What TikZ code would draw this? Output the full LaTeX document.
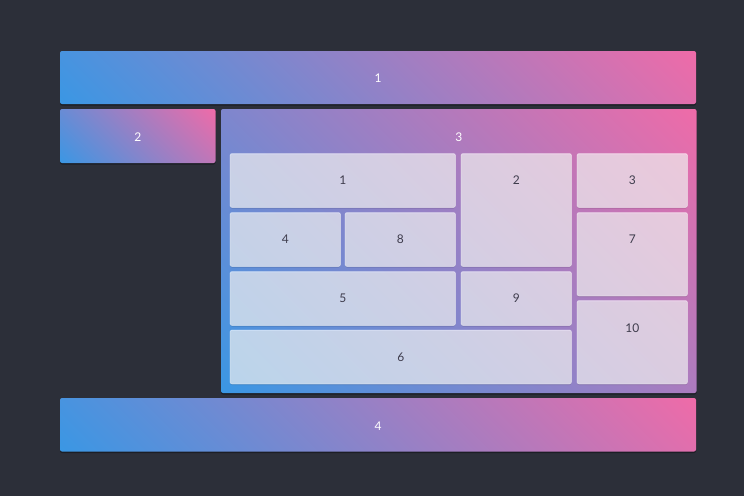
\documentclass[tikz,border=0pt]{standalone}
\usepackage{fontspec}
\setmainfont{Lato}
\usetikzlibrary{shadows}
\definecolor{bg}{HTML}{2C2F39}
\definecolor{gblue}{HTML}{3A97E4}
\definecolor{gpink}{HTML}{EF6BA8}
\definecolor{celltext}{HTML}{3E3C4C}
\begin{document}
\begin{tikzpicture}[x=1pt,y=-1pt,
  font=\fontsize{12}{14}\selectfont,
  gradbox/.style={draw=none, rounded corners=2pt, inner sep=0pt, outer sep=0pt, anchor=north west,
    drop shadow={shadow xshift=0pt, shadow yshift=-1.5pt, opacity=0.35, fill=black},
    path picture={
      \pgfpointdiff{\pgfpointanchor{path picture bounding box}{south west}}{\pgfpointanchor{path picture bounding box}{north east}}%
      \pgfgetlastxy{\gbw}{\gbh}%
      \pgfmathsetlengthmacro{\gbS}{(\gbw+\gbh)/sqrt(2)}%
      \begin{scope}[transform canvas={rotate around={45:(path picture bounding box.center)}}]
        \shade[left color=gblue, right color=gpink]
          ([shift={(-\gbS/2,-\gbS/2)}]path picture bounding box.center) rectangle ++(\gbS,\gbS);
      \end{scope}
    }},
  cellbox/.style={rounded corners=2pt, inner sep=0pt, outer sep=0pt, anchor=north west,
    fill=white, fill opacity=0.66, draw=white, draw opacity=0.35, line width=0.8pt,
    drop shadow={shadow xshift=0pt, shadow yshift=-1pt, opacity=0.12, fill=black}},
  lbl/.style={text=white, inner sep=0pt},
  clbl/.style={text=celltext, inner sep=0pt}]
\useasboundingbox (0,0) rectangle (744,496);
\fill[bg] (0,0) rectangle (744,496);

% outer boxes
\node[gradbox, minimum width=636pt, minimum height=53pt] (b1) at (60,51) {};
\node[gradbox, minimum width=155.5pt, minimum height=54pt] (b2) at (60,109) {};
\node[gradbox, minimum width=475.5pt, minimum height=284pt] (b3) at (221,109) {};
\node[gradbox, minimum width=636pt, minimum height=53.5pt] (b4) at (60,398) {};

\node[lbl] (b1t) at ([yshift=-27pt]b1.north) {1};
\node[lbl] (b2t) at ([yshift=-28pt]b2.north) {2};
\node[lbl] (b3t) at ([yshift=-28pt]b3.north) {3};
\node[lbl] (b4t) at ([yshift=-28pt]b4.north) {4};

% inner cells
\node[cellbox, minimum width=225.5pt, minimum height=54pt] (c1) at (230,153.5) {};
\node[cellbox, minimum width=110.5pt, minimum height=113pt] (c2) at (461,153.5) {};
\node[cellbox, minimum width=110.5pt, minimum height=54pt] (c3) at (577,153.5) {};
\node[cellbox, minimum width=110.5pt, minimum height=54pt] (c4) at (230,212.5) {};
\node[cellbox, minimum width=110.5pt, minimum height=54pt] (c8) at (345,212.5) {};
\node[cellbox, minimum width=110.5pt, minimum height=83.5pt] (c7) at (577,212.5) {};
\node[cellbox, minimum width=225.5pt, minimum height=54pt] (c5) at (230,271.5) {};
\node[cellbox, minimum width=110.5pt, minimum height=54pt] (c9) at (461,271.5) {};
\node[cellbox, minimum width=110.5pt, minimum height=83.5pt] (c10) at (577,300.5) {};
\node[cellbox, minimum width=341.5pt, minimum height=54pt] (c6) at (230,330) {};

\node[clbl] (c1t) at ([yshift=-27pt]c1.north) {1};
\node[clbl] (c2t) at ([yshift=-27pt]c2.north) {2};
\node[clbl] (c3t) at ([yshift=-27pt]c3.north) {3};
\node[clbl] (c4t) at ([yshift=-27pt]c4.north) {4};
\node[clbl] (c8t) at ([yshift=-27pt]c8.north) {8};
\node[clbl] (c7t) at ([yshift=-27pt]c7.north) {7};
\node[clbl] (c5t) at ([yshift=-27pt]c5.north) {5};
\node[clbl] (c9t) at ([yshift=-27pt]c9.north) {9};
\node[clbl] (c10t) at ([yshift=-28pt]c10.north) {10};
\node[clbl] (c6t) at ([yshift=-27pt]c6.north) {6};
\end{tikzpicture}
\end{document}
